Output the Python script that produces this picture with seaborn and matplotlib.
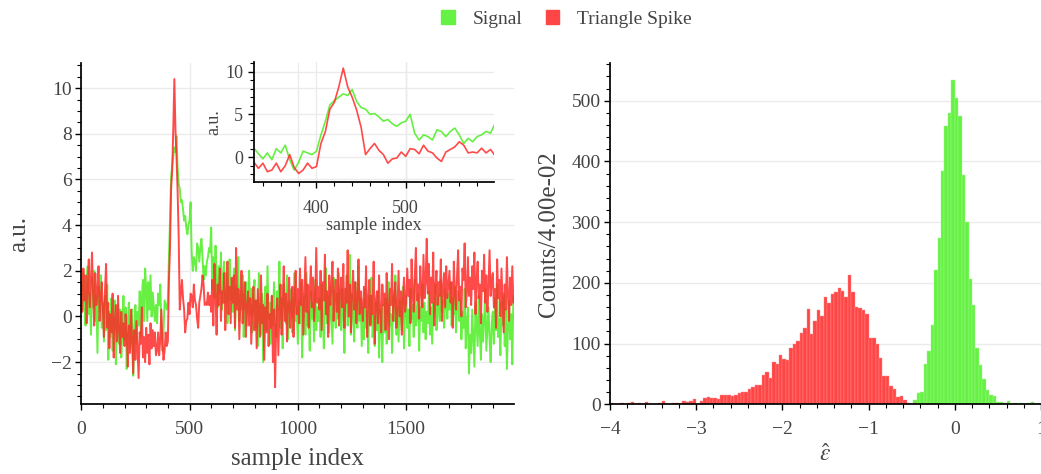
import numpy as np
import pandas as pd
import matplotlib
matplotlib.use('Agg')
import matplotlib.pyplot as plt
import seaborn as sns
from matplotlib.patches import Patch
from matplotlib.ticker import MultipleLocator

# waveforms, one value every 5 samples (0..1995)
sample_step = 5
signal = np.array([
    1.2, 0.3, 1.9, 0.6, -0.4, 1.5, 2.2, 0.1, 1.0, -0.8, 1.7, 0.4, 2.0, -0.2, 0.9, -1.6, 1.3, 0.2, 1.8, -0.5,
    0.6, -1.1, 0.9, -0.6, 1.4, -1.9, 0.2, -0.9, 0.8, -1.5, -0.2, 0.7, -2.1, -0.4, 0.5, -1.2, 0.3, -1.8, -0.6, 0.9,
    -1.0, 0.4, -2.3, -0.3, 0.6, -1.4, -0.5, 0.3, -2.6, -0.8, 0.5, -1.2, 0.2, -0.4, 1.1, -0.9, 0.8, 1.6, -0.2, 2.1,
    1.2, -0.2, 1.5, 0.3, 1.8, 0.0, 1.05, 0.4, -0.2, 0.5, -0.3, 1.0, 0.5, 1.4, -0.3, -1.5, -0.6, 0.7, 0.5, 0.3,
    0.7, 2.6, 4.2, 6.1, 6.6, 7.0, 7.4, 7.2, 7.9, 6.5, 5.8, 5.6, 5.0, 5.1, 4.7, 4.2, 4.4, 3.9, 3.6, 4.0,
    4.2, 5.0, 2.8, 2.0, 2.6, 2.4, 2.0, 3.2, 3.0, 2.4, 3.0, 3.4, 2.6, 1.6, 2.2, 1.8, 2.4, 2.6, 3.0, 2.8,
    3.9, 1.2, 2.6, 0.8, 3.1, 1.5, 0.4, 2.2, 1.0, 2.8, 0.3, 1.7, 2.4, 0.6, 1.9, -0.3, 1.4, 2.5, 0.7, 1.6,
    0.2, 2.1, -0.6, 1.3, 0.5, 2.6, -0.2, 1.1, 0.3, 1.8, -0.9, 0.9, 1.5, -0.4, 0.6, 2.0, 0.1, 1.2, -0.7, 0.8,
    1.6, -0.5, 0.7, -1.3, 1.9, 0.2, -0.8, 1.0, -2.0, 0.4, 1.3, -0.6, 2.2, -0.1, 0.6, -1.2, 0.9, -0.4, 1.5, 0.0,
    -0.9, 1.1, 0.3, 2.4, -0.5, 0.8, -1.4, 1.4, 0.1, -0.3, 1.8, -1.0, 0.6, 0.2, 1.2, -0.7, 0.5, 1.9, -0.2, 0.4,
    -1.2, 0.7, -0.3, 1.5, -1.8, 0.3, 0.9, -0.8, 1.9, -0.4, 0.2, -1.5, 1.1, -0.1, 0.6, -1.1, 1.6, -0.6, 0.4, -0.2,
    0.8, -0.9, 1.4, 0.1, -1.4, 0.6, 2.1, -0.3, 0.9, -0.7, 1.3, 0.0, -1.2, 1.7, 0.4, -0.5, 1.0, -0.1, 1.9, 0.3,
    -0.6, 1.2, 0.2, -1.6, 0.7, 1.8, -0.4, 0.5, 2.7, -0.8, 1.0, 0.1, -1.1, 1.5, 0.3, -0.5, 2.2, -0.2, 0.8, -1.3,
    0.4, -1.0, 1.2, -0.5, 0.2, -1.6, 0.9, -0.3, 1.7, -0.9, 0.0, -1.3, 0.6, -0.6, 1.1, -1.8, 0.3, -0.2, -2.0, 0.5,
    -0.7, 0.8, -1.2, 0.3, 1.5, -0.4, 0.1, -1.6, 0.9, -0.2, 1.8, -0.8, 0.4, -1.1, 0.7, 0.0, -0.6, 1.3, -1.4, 0.2,
    0.9, -0.5, 0.3, -1.3, 1.2, -0.1, 0.5, -0.9, 1.6, -0.4, 0.0, 1.0, -1.5, 0.4, -0.2, 1.4, -0.7, 0.6, -1.0, 0.2,
    -0.3, 1.1, -0.8, 0.4, -1.2, 0.6, 0.1, 1.4, -0.6, 0.3, 0.9, -0.2, 1.6, 0.2, 0.7, -0.5, 1.2, 0.5, -0.1, 1.0,
    0.3, 1.5, -0.4, 0.8, 0.1, 1.3, -0.7, 0.5, 1.1, -0.2, 0.7, -1.0, 0.2, -0.5, 1.2, -1.4, -0.3, 0.4, -2.5, -0.8,
    -1.6, 0.3, -0.9, -2.2, 0.6, -0.4, -1.3, 0.9, -0.7, -1.9, 0.1, -1.1, -0.2, 1.2, -1.5, -0.5, 0.4, -1.0, -2.0, -0.3,
    0.2, -1.2, 0.8, -0.6, 1.4, -0.9, -0.1, -1.7, 0.6, -0.4, 1.0, -1.3, 0.3, -2.3, -0.5, 0.7, -1.0, 0.1, -2.1, 0.9,
])
spike = np.array([
    1.4, 0.2, 2.1, 0.7, 1.8, -0.3, 1.2, 2.5, 0.4, 1.6, 2.8, 0.9, -0.4, 1.9, 0.5, 1.1, 2.2, -0.2, 0.8, 1.5,
    0.3, -0.9, 1.2, 2.3, -0.5, 0.6, -1.4, 0.1, -0.7, 1.0, -1.8, -0.2, 0.5, -1.1, 0.9, -0.6, -1.6, 0.2, -0.9, -0.3,
    -1.3, 0.1, -0.8, -2.2, -0.4, -1.6, 0.3, -1.1, -2.5, -0.6, -1.9, -0.2, -1.4, -2.7, -0.7, -1.2, 0.4, -1.8, -0.9, -2.0,
    -0.5, -1.6, -0.8, -2.1, -0.3, -1.4, -0.6, -1.3, -0.7, -1.7, -1.5, -0.7, -1.7, -1.0, 0.3, -1.2, -1.9, -1.5, -0.7, -1.3,
    -1.1, 1.6, 3.0, 5.6, 6.4, 8.2, 10.4, 8.2, 7.0, 5.5, 3.5, 0.3, 1.0, 1.6, 0.8, 0.3, -0.7, -0.2, -0.1, 0.6,
    0.1, 1.0, 0.9, 0.4, 1.4, 0.7, 0.5, -0.1, -0.5, 0.6, 0.9, 1.2, 1.8, 1.4, 0.5, 0.6, 0.5, 1.05, 0.5, 0.9,
    0.2, 1.6, -0.4, 2.3, 0.9, -0.8, 1.4, 0.5, 2.1, -0.2, 1.1, 0.6, 1.9, -0.6, 0.8, 2.4, 0.1, 1.3, -0.3, 1.7,
    0.6, 1.8, -0.5, 3.0, 0.3, 1.2, -1.0, 0.9, 2.0, -0.3, 0.7, 1.5, -0.9, 0.4, 1.1, -0.4, 0.8, -1.2, 0.5, 1.3,
    -0.6, 0.7, -1.4, 1.2, 0.2, -0.9, 1.8, -0.3, 0.5, -1.9, 0.4, -0.7, 1.0, -1.3, 0.1, -0.5, 0.9, -2.0, 0.3, -3.1,
    -0.4, 0.8, -1.7, 0.3, 1.4, -0.8, 0.6, 2.2, -0.2, 1.0, -1.1, 0.5, 1.7, -0.5, 0.2, 1.3, -0.9, 0.7, 2.0, 0.1,
    1.2, -0.3, 2.1, 0.5, 1.6, -0.8, 0.9, 2.6, 0.2, 1.4, -0.5, 1.0, 2.2, 0.4, 1.7, -0.2, 0.8, 3.0, 0.6, 1.3,
    0.3, 2.0, -0.6, 1.5, 0.7, 2.7, 0.1, 1.1, -0.9, 1.8, 0.5, 1.3, 2.4, -0.2, 0.9, 1.6, 0.2, 2.1, -0.4, 1.0,
    1.7, 0.4, 2.3, -0.5, 1.2, 0.6, 2.9, 0.0, 1.4, -0.7, 0.9, 2.0, 0.3, 1.5, -0.3, 0.8, 2.5, 0.1, 1.1, 0.5,
    -0.2, 1.3, 0.4, 2.2, -0.9, 0.7, 1.6, -0.4, 0.9, 0.1, 2.4, -1.2, 0.6, 1.1, -0.3, 1.8, 0.2, -0.7, 1.4, 0.5,
    1.0, -0.6, 1.9, 0.3, -1.0, 1.2, 0.5, 2.3, -0.2, 0.8, 1.5, -0.5, 0.4, 2.0, 0.0, 1.1, -0.8, 0.7, 1.7, 0.2,
    0.6, 2.1, 0.9, 1.6, -0.3, 2.5, 1.0, 0.2, 1.8, 3.0, 0.7, 1.4, -0.1, 2.2, 1.1, 0.4, 2.7, 0.8, 1.5, 3.4,
    1.0, 2.3, 0.1, 1.7, 0.6, 2.8, -0.4, 1.3, 2.0, 0.5, 1.5, 0.9, 2.5, -0.2, 1.2, 1.9, 0.4, 2.2, 0.8, 1.4,
    2.0, 0.6, 1.5, -0.5, 2.4, 1.1, 0.3, 1.8, 2.9, 0.7, 1.3, 0.0, 2.1, 1.6, 3.2, 0.4, 1.0, 2.6, 0.9, 1.7,
    0.5, 2.2, 1.2, 2.8, 0.1, 1.6, 2.4, 0.8, 1.4, -0.3, 2.0, 1.1, 2.7, 0.6, 1.8, 0.2, 1.3, 2.9, 0.9, 1.5,
    1.9, 0.4, 1.2, -0.5, 2.5, 0.8, 1.6, 0.0, 2.1, 0.7, -0.7, 1.4, 0.3, 2.6, 0.9, -0.2, 1.7, 0.5, 2.2, 0.6,
])
samples = np.arange(len(signal)) * sample_step

# histogram of eps-hat, counts per 0.04 bin
bin_width = 0.04
spike_start = -4.0
spike_counts = [2, 1, 0, 2, 0, 3, 4, 0, 3, 0, 4, 0, 0, 0, 2, 5, 1, 1, 2, 3,
                1, 5, 4, 5, 8, 1, 5, 10, 12, 10, 10, 8, 15, 15, 16, 14, 16, 19, 21, 21,
                25, 29, 31, 31, 49, 53, 44, 69, 66, 82, 74, 73, 92, 100, 104, 118, 125, 157, 115, 138,
                155, 145, 177, 167, 181, 185, 192, 187, 177, 213, 185, 160, 159, 156, 148, 110, 109, 99, 77, 46,
                47, 30, 25, 12, 13, 7, 2, 0, 3, 1, 1, 0, 1]
signal_start = -0.48
signal_counts = [7, 18, 20, 66, 88, 131, 222, 274, 384, 459, 479, 534, 504, 474, 377, 301, 207, 164,
                 92, 65, 41, 24, 16, 13, 4, 4, 2, 6, 1, 2, 1, 2, 1, 3, 4, 1]

green = '#66f244'
red = '#ff4646'
tick_col = '#444444'

sns.set_theme(style='ticks')
plt.rcParams['font.family'] = ['Liberation Serif', 'DejaVu Serif']
plt.rcParams['mathtext.fontset'] = 'stix'

fig = plt.figure(figsize=(10.41, 4.74), dpi=100)
ax1 = fig.add_axes([0.078, 0.147, 0.416, 0.72])
ins = fig.add_axes([0.244, 0.616, 0.2306, 0.253])
ax2 = fig.add_axes([0.586, 0.147, 0.414, 0.72])


def style(ax, fs, xpad=8, ypad=2.5):
    sns.despine(ax=ax)
    ax.spines['left'].set_color('black')
    ax.spines['bottom'].set_color('black')
    ax.tick_params(which='major', direction='out', length=4.3, width=1, color='black',
                   labelsize=fs, labelcolor=tick_col)
    ax.tick_params(which='minor', direction='out', length=2.9, width=0.8, color='black')
    ax.tick_params(axis='x', which='major', pad=xpad)
    ax.tick_params(axis='y', which='major', pad=ypad)
    ax.set_axisbelow(True)


for ax, lw in ((ax1, 1.4), (ins, 1.2)):
    sns.lineplot(x=samples, y=signal, ax=ax, color='#4cee22', alpha=0.85, lw=lw, estimator=None)
    sns.lineplot(x=samples, y=spike, ax=ax, color='#ff2a2a', alpha=0.85, lw=lw, estimator=None)
    ax.grid(True, color='#ebebeb', lw=1)

ax1.set_xlim(0, 1999)
ax1.set_ylim(-3.85, 11.1)
ax1.xaxis.set_major_locator(MultipleLocator(500))
ax1.xaxis.set_minor_locator(MultipleLocator(100))
ax1.yaxis.set_major_locator(MultipleLocator(2))
ax1.yaxis.set_minor_locator(MultipleLocator(0.5))
style(ax1, 14)
ax1.set_xlabel('sample index', fontsize=18, color=tick_col, labelpad=7)
ax1.set_ylabel('a.u.', fontsize=18, color=tick_col, labelpad=15)

ins.patch.set_alpha(0)
ins.set_xlim(330, 599)
ins.set_ylim(-2.9, 11.1)
ins.xaxis.set_major_locator(MultipleLocator(100))
ins.xaxis.set_minor_locator(MultipleLocator(20))
ins.yaxis.set_major_locator(MultipleLocator(5))
ins.yaxis.set_minor_locator(MultipleLocator(1))
style(ins, 13, xpad=8.5, ypad=3.5)
ins.set_xlabel('sample index', fontsize=13, color=tick_col, labelpad=0)
ins.set_ylabel('a.u.', fontsize=13, color=tick_col, labelpad=2)

# histograms
sig_edges = signal_start + bin_width * np.arange(len(signal_counts) + 1)
spk_edges = spike_start + bin_width * np.arange(len(spike_counts) + 1)
sig_df = pd.DataFrame({'eps': sig_edges[:-1] + bin_width / 2, 'n': signal_counts})
spk_df = pd.DataFrame({'eps': spk_edges[:-1] + bin_width / 2, 'n': spike_counts})
sns.histplot(data=sig_df, x='eps', weights='n', bins=list(sig_edges),
             color=green, alpha=1, edgecolor='#a0f890', linewidth=0.3, ax=ax2)
sns.histplot(data=spk_df, x='eps', weights='n', bins=list(spk_edges),
             color=red, alpha=1, edgecolor='#ff9090', linewidth=0.3, ax=ax2)
ax2.set_xlim(-4, 1)
ax2.set_ylim(0, 562)
ax2.xaxis.set_major_locator(MultipleLocator(1))
ax2.xaxis.set_minor_locator(MultipleLocator(0.2))
ax2.yaxis.set_major_locator(MultipleLocator(100))
ax2.yaxis.set_minor_locator(MultipleLocator(20))
ax2.grid(True, axis='y', color='#ebebeb', lw=1)
style(ax2, 14)
ax2.set_xlabel(r'$\hat{\varepsilon}$', fontsize=17, color=tick_col, labelpad=4)
ax2.set_ylabel('Counts/4.00e-02', fontsize=18, color=tick_col, labelpad=8)

fig.legend(handles=[Patch(color=green, label='Signal'), Patch(color=red, label='Triangle Spike')],
           loc='upper center', bbox_to_anchor=(0.544, 1.015), ncol=2, frameon=False,
           fontsize=14, handlelength=0.7, handleheight=0.7, handletextpad=0.9,
           columnspacing=1.2, labelcolor=tick_col)

fig.savefig('out.png', dpi=100)
